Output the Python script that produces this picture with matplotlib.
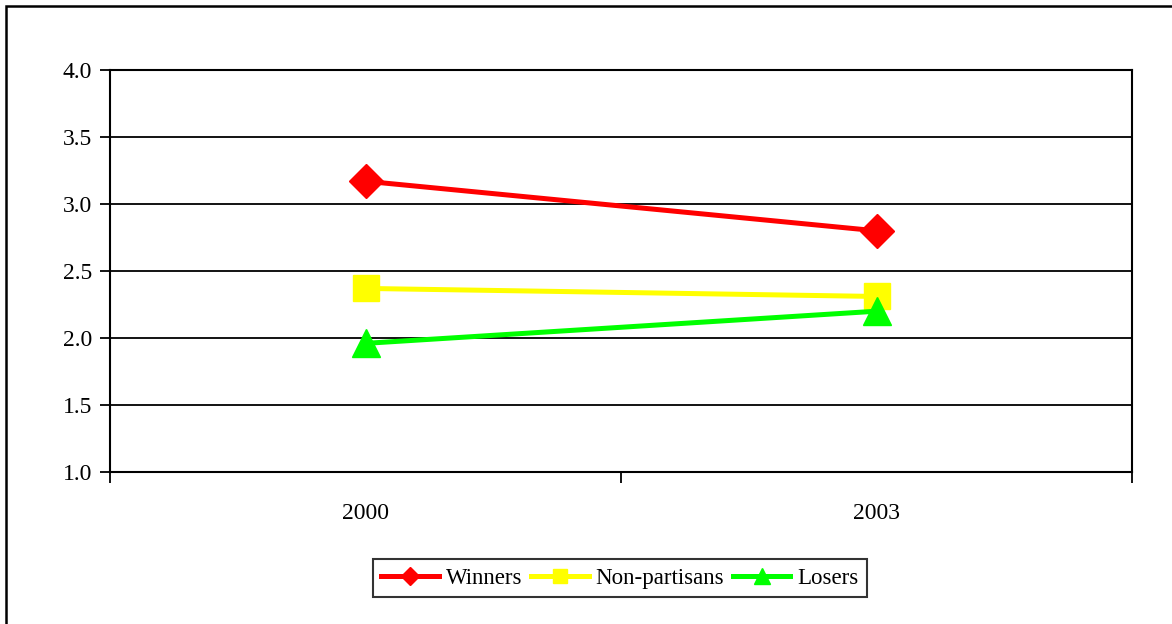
import matplotlib.pyplot as plt
from matplotlib.patches import Rectangle

# Data
years = ["2000", "2003"]
winners = [3.17, 2.80]
non_partisans = [2.37, 2.31]
losers = [1.96, 2.20]

plt.rcParams['font.family'] = ['Liberation Serif', 'DejaVu Serif']

fig = plt.figure(figsize=(11.72, 6.24), dpi=100)
ax = fig.add_axes([110 / 1172, 1 - 472 / 624, 1022 / 1172, 402 / 624])

# outer frame (chart area border)
fig.patches.append(Rectangle((6 / 1172, -0.05), 1.2, 1 - 6 / 624 + 0.05,
                             transform=fig.transFigure, fill=False,
                             edgecolor='black', linewidth=1.8))

x = [0.5, 1.5]
ax.plot(x, winners, color='#ff0000', lw=3.6, marker='D', ms=17, label='Winners')
ax.plot(x, non_partisans, color='#ffff00', lw=3.6, marker='s', ms=19, label='Non-partisans')
ax.plot(x, losers, color='#00ff00', lw=3.6, marker='^', ms=20, label='Losers')

ax.set_xlim(0, 2)
ax.set_ylim(1.0, 4.0)
ax.set_yticks([1.0, 1.5, 2.0, 2.5, 3.0, 3.5, 4.0])
ax.set_yticklabels(['%.1f' % v for v in ax.get_yticks()])
ax.yaxis.grid(True, color='black', lw=1.3)
ax.set_axisbelow(True)

# category ticks between categories, labels at centres
ax.set_xticks([0, 1, 2])
ax.set_xticklabels([])
ax.set_xticks(x, minor=True)
ax.set_xticklabels(years, minor=True)
ax.tick_params(axis='x', which='major', direction='out', length=8, width=1.3)
ax.tick_params(axis='x', which='minor', length=0, pad=22, labelsize=17)
ax.tick_params(axis='y', direction='out', length=7, width=1.3, labelsize=17, pad=6)

for s in ax.spines.values():
    s.set_linewidth(1.5)

leg = ax.legend(loc='center', bbox_to_anchor=(620 / 1172, 1 - 578 / 624),
                bbox_transform=fig.transFigure, ncol=3, fontsize=16.5,
                frameon=True, fancybox=False, edgecolor='black',
                handlelength=2.5, handletextpad=0.3, columnspacing=0.4,
                borderpad=0.35, markerscale=0.55)
leg.get_frame().set_linewidth(1.5)

fig.savefig('out.png', dpi=100)
